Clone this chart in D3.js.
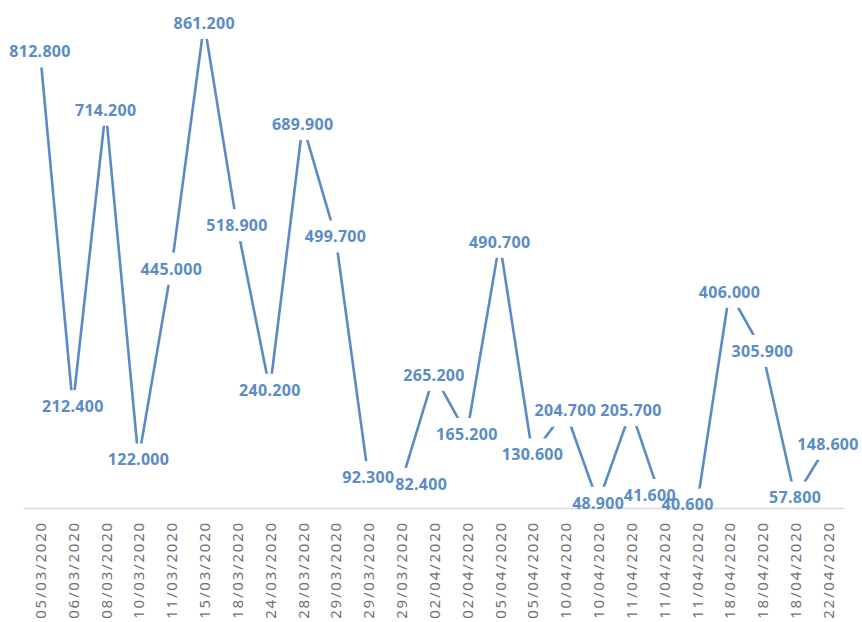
<!DOCTYPE html>
<html>
<head>
<meta charset="utf-8">
<script src="https://cdn.jsdelivr.net/npm/d3@7"></script>
<style>
  html, body { margin: 0; padding: 0; background: #fff; }
  svg { display: block; }
</style>
</head>
<body>
<svg width="862" height="622"></svg>
<script>
// categories (dates repeat, so points are keyed by index)
const dates = [
  "05/03/2020", "06/03/2020", "08/03/2020", "10/03/2020", "11/03/2020",
  "15/03/2020", "18/03/2020", "24/03/2020", "28/03/2020", "29/03/2020",
  "29/03/2020", "29/03/2020", "02/04/2020", "02/04/2020", "05/04/2020",
  "05/04/2020", "10/04/2020", "10/04/2020", "11/04/2020", "11/04/2020",
  "11/04/2020", "18/04/2020", "18/04/2020", "18/04/2020", "22/04/2020"
];

const values = [
  812.8, 212.4, 714.2, 122.0, 445.0, 861.2, 518.9, 240.2, 689.9, 499.7,
  92.3, 82.4, 265.2, 165.2, 490.7, 130.6, 204.7, 48.9, 205.7, 41.6,
  40.6, 406.0, 305.9, 57.8, 148.6
];

// value axis bounds (axis itself is hidden)
const yMin = 40;
const yMax = 900;

// labels that were moved by hand in the original to avoid overlaps: [index, dx, dy]
const labelNudges = [
  [11, 20, 1],
  [19, -14, -12],
  [20, -9, -3]
];

const plot = { left: 23.6, right: 844.4, top: 0, bottom: 508 };

const LINE_COLOR = "#5b8bc2";
const LABEL_COLOR = "#5a8cc6";

const svg = d3.select("svg");

const idx = dates.map((d, i) => i);

const xScale = d3
  .scalePoint()
  .domain(idx)
  .range([plot.left, plot.right])
  .padding(0.5);

const yScale = d3
  .scaleLinear()
  .domain([yMin, yMax])
  .range([plot.bottom, plot.top]);

// category labels, rotated
const xAxis = d3
  .axisBottom(xScale)
  .tickSize(0)
  .tickFormat(i => dates[i]);

const gx = svg
  .append("g")
  .attr("transform", `translate(0, ${plot.bottom})`)
  .call(xAxis);
gx.select(".domain").remove();
gx.selectAll("text")
  .attr("transform", "rotate(-90)")
  .attr("x", -13)
  .attr("y", 0)
  .attr("dy", "0.36em")
  .attr("text-anchor", "end")
  .attr("fill", "#707070")
  .style("font-family", "'Noto Sans', sans-serif")
  .style("font-size", "15px")
  .style("letter-spacing", "1.8px");

// the line
const valueline = d3
  .line()
  .x((d, i) => xScale(i))
  .y(d => yScale(d));

svg
  .append("path")
  .attr("d", valueline(values))
  .attr("fill", "none")
  .attr("stroke", LINE_COLOR)
  .attr("stroke-width", 2.6)
  .attr("stroke-linejoin", "round");

// data labels: white boxes first (they hide the line), then all the texts
const nudge = {};
labelNudges.forEach(n => (nudge[n[0]] = [n[1], n[2]]));

function labelPos(d, i) {
  const n = nudge[i] || [0, 0];
  return `translate(${xScale(i) + n[0]}, ${yScale(d) + n[1]})`;
}

svg
  .append("g")
  .selectAll("rect")
  .data(values)
  .join("rect")
  .attr("transform", labelPos)
  .attr("x", -34)
  .attr("y", -16)
  .attr("width", 68)
  .attr("height", 32)
  .attr("fill", "#fff");

// category axis line
svg
  .append("line")
  .attr("x1", plot.left)
  .attr("x2", plot.right)
  .attr("y1", plot.bottom + 0.5)
  .attr("y2", plot.bottom + 0.5)
  .attr("stroke", "#d9d9d9")
  .attr("stroke-width", 1.5);

svg
  .append("g")
  .selectAll("text")
  .data(values)
  .join("text")
  .attr("transform", labelPos)
  .attr("text-anchor", "middle")
  .attr("dy", "0.36em")
  .attr("fill", LABEL_COLOR)
  .style("font-family", "'Noto Sans', sans-serif")
  .style("font-weight", "bold")
  .style("font-size", "16px")
  .style("letter-spacing", "0.3px")
  .text(d => d3.format(".3f")(d));
</script>
</body>
</html>
